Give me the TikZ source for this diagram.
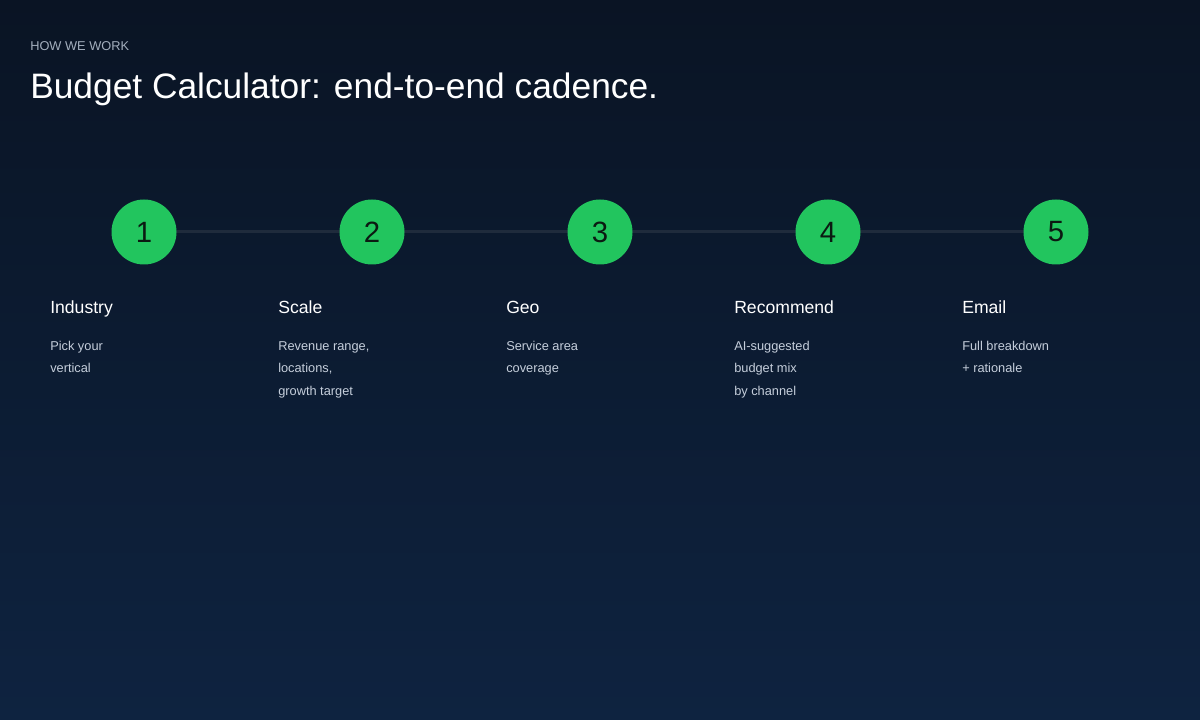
\documentclass[tikz,border=0pt]{standalone}
\usepackage{fontspec}
\setmainfont{Liberation Sans}
\definecolor{bgtop}{HTML}{0A1424}
\definecolor{bgbot}{HTML}{0E2340}
\definecolor{grn}{HTML}{22C55E}
\definecolor{lnc}{HTML}{1F2B3C}
\definecolor{dsc}{HTML}{C5CEDB}
\definecolor{eyeb}{HTML}{A3AEBD}
\definecolor{numc}{HTML}{0B1A12}
\begin{document}
\begin{tikzpicture}[x=0.75pt,y=-0.75pt,
  stepcircle/.style={circle,fill=grn,minimum size=48.75pt,inner sep=0pt,text=numc,font=\fontsize{22}{26}\selectfont},
  steptitle/.style={anchor=base west,inner sep=0pt,text=white,font=\fontsize{13.2}{16}\selectfont},
  stepdesc/.style={anchor=base west,inner sep=0pt,text=dsc,font=\fontsize{9.6}{12}\selectfont,align=left}]
\shade[top color=bgtop,bottom color=bgbot] (0,0) rectangle (1200,720);
\useasboundingbox (0,0) rectangle (1200,720);
\node[anchor=base west,inner sep=0pt,text=eyeb,font=\fontsize{9.6}{12}\selectfont] (eyebrow) at (30,51) {HOW WE WORK};
\node[anchor=base west,inner sep=0pt,text=white,font=\fontsize{26.5}{32}\selectfont] (title) at (30,99) {Budget Calculator: end-to-end cadence.};
\foreach \i/\x in {1/144,2/372,3/600,4/828,5/1056}{
  \coordinate (p\i) at (\x,232);
}
\draw[lnc,line width=2.25pt] (p1) -- (p2) -- (p3) -- (p4) -- (p5);
\foreach \i in {1,...,5}{ \node[stepcircle] (c\i) at (p\i) {\raisebox{-1.5pt}{\i}}; }
\node[steptitle] (t1) at (50,314) {Industry};
\node[steptitle] (t2) at (278,314) {Scale};
\node[steptitle] (t3) at (506,314) {Geo};
\node[steptitle] (t4) at (734,314) {Recommend};
\node[steptitle] (t5) at (962,314) {Email};
\foreach \x/\a/\b/\c/\n in {50/Pick your/vertical//1,278/{Revenue range,}/{locations,}/growth target/2,506/Service area/coverage//3,734/AI-suggested/budget mix/by channel/4,962/Full breakdown/+ rationale//5}{
  \node[stepdesc] (d\n a) at (\x,351) {\a};
  \node[stepdesc] (d\n b) at (\x,373) {\b};
  \node[stepdesc] (d\n c) at (\x,395) {\c};
}
\end{tikzpicture}
\end{document}
